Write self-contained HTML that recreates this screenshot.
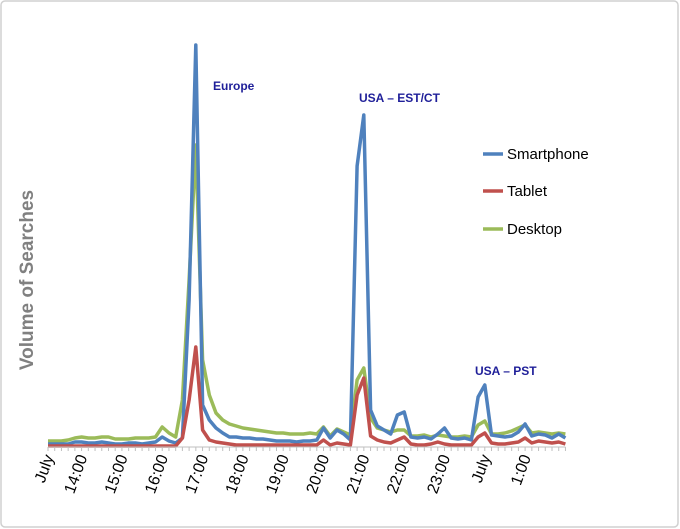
<!DOCTYPE html>
<html><head><meta charset="utf-8"><style>
body{margin:0;background:#fff;font-family:"Liberation Sans",sans-serif}
svg{display:block}
</style></head><body>
<svg width="680" height="529">
<rect x="1" y="1" width="677" height="526" rx="4" fill="#fff" stroke="#d0d0d0" stroke-width="1.5"/>
<text x="33" y="280" transform="rotate(-90 33 280)" text-anchor="middle" font-size="19" font-weight="bold" fill="#808080">Volume of Searches</text>
<g id="plot"></g>
<g id="xaxis"></g>
<text x="213" y="90" font-size="12" font-weight="bold" fill="#1f1f99">Europe</text>
<text x="359" y="102" font-size="12" font-weight="bold" fill="#1f1f99">USA – EST/CT</text>
<text x="475" y="375" font-size="12" font-weight="bold" fill="#1f1f99">USA – PST</text>
<g>
<line x1="483" y1="154" x2="503" y2="154" stroke="#4f81bd" stroke-width="3.5"/>
<text x="507" y="159" font-size="15" fill="#000">Smartphone</text>
<line x1="483" y1="191" x2="503" y2="191" stroke="#c0504d" stroke-width="3.5"/>
<text x="507" y="196" font-size="15" fill="#000">Tablet</text>
<line x1="483" y1="229" x2="503" y2="229" stroke="#9bbb59" stroke-width="3.5"/>
<text x="507" y="234" font-size="15" fill="#000">Desktop</text>
</g>
</svg>
<script>
const smartphone=[3,3,3,3,5,5,4,4,5,4,3,3,4,4,3,4,5,10,6,4,9,147,402,42,27,19,14,10,10,9,9,8,8,7,6,6,6,5,6,6,7,19,9,17,13,7,281,332,37,21,17,13,32,35,10,9,10,8,13,19,9,8,9,7,50,62,12,11,10,11,15,23,11,13,12,9,13,9];
const tablet=[1,1,1,1,1,1,1,1,1,1,1,1,1,1,1,1,1,1,1,1,9,47,100,17,7,5,4,3,2,2,2,2,2,2,2,2,2,2,2,2,2,7,2,4,3,2,52,69,11,7,5,4,7,10,3,2,2,3,5,3,2,2,2,2,10,14,4,3,3,4,5,9,4,6,5,4,5,3];
const desktop=[6,6,6,7,9,10,9,9,10,10,8,8,8,9,9,9,10,20,14,10,47,167,302,87,52,34,27,23,21,19,18,17,16,15,14,14,13,13,13,14,13,20,11,18,15,12,67,79,29,19,17,15,17,17,11,11,12,10,12,11,10,10,11,10,22,26,13,13,14,16,19,22,14,15,14,13,14,13];
const tickLabels=["July","14:00","15:00","16:00","17:00","18:00","19:00","20:00","21:00","22:00","23:00","July","1:00"];
const tickIndex=[0,5,11,17,23,29,35,41,47,53,59,65,71];
const NS="http://www.w3.org/2000/svg";
const x0=48,step=6.72,yBase=447,yTop=45,vMax=402;
const xs=i=>x0+i*step;
const ys=v=>yBase-(v/vMax)*(yBase-yTop);
const plot=document.getElementById('plot'),xa=document.getElementById('xaxis');
function series(data,color,name){
 const p=document.createElementNS(NS,'polyline');
 p.setAttribute('points',data.map((v,i)=>xs(i).toFixed(1)+','+ys(v).toFixed(1)).join(' '));
 p.setAttribute('fill','none');p.setAttribute('stroke',color);p.setAttribute('stroke-width','3.5');p.setAttribute('stroke-linejoin','round');
 
 
 plot.appendChild(p);
}
const ax=document.createElementNS(NS,'line');
ax.setAttribute('x1',x0);ax.setAttribute('x2',xs(smartphone.length-1));ax.setAttribute('y1',yBase);ax.setAttribute('y2',yBase);ax.setAttribute('stroke','#bfbfbf');


xa.appendChild(ax);
for(let i=0;i<smartphone.length;i++){
 const t=document.createElementNS(NS,'line');
 t.setAttribute('x1',xs(i));t.setAttribute('x2',xs(i));t.setAttribute('y1',yBase);t.setAttribute('y2',yBase+4);t.setAttribute('stroke','#bfbfbf');
 
 
 xa.appendChild(t);
}
tickLabels.forEach((l,k)=>{
 const tx=xs(tickIndex[k])+6,ty=457;
 const t=document.createElementNS(NS,'text');
 t.setAttribute('x',tx);t.setAttribute('y',ty);t.setAttribute('text-anchor','end');t.setAttribute('font-size','16');
 t.setAttribute('transform','rotate(-70 '+tx+' '+ty+')');
 t.textContent=l;
 
 
 xa.appendChild(t);
});
series(desktop,'#9bbb59','series-desktop');
series(smartphone,'#4f81bd','series-smartphone');
series(tablet,'#c0504d','series-tablet');
</script>
</body></html>
